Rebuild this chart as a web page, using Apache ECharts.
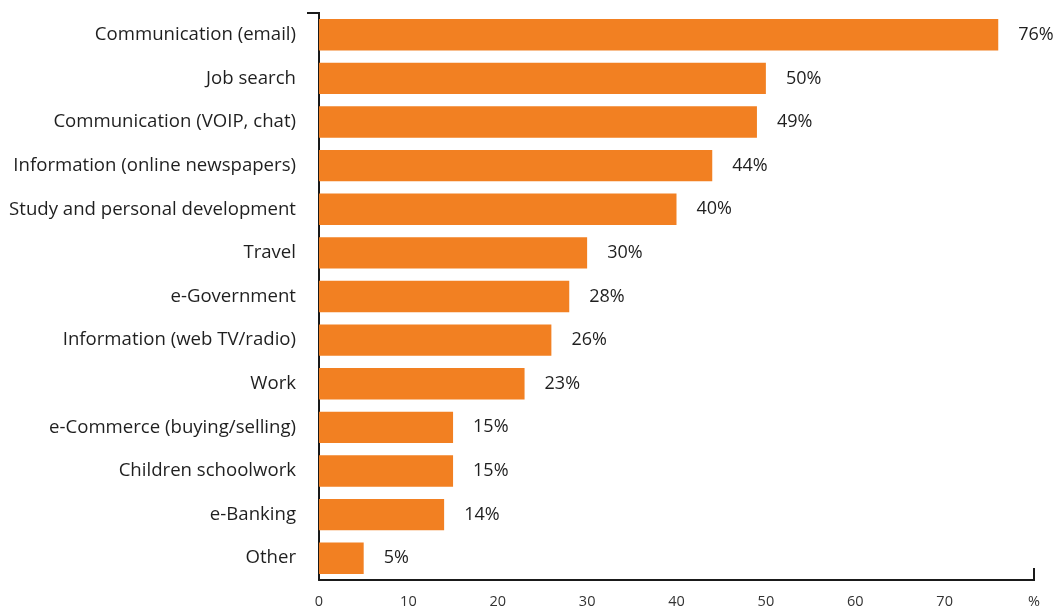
<!DOCTYPE html>
<html>
<head>
<meta charset="utf-8">
<script src="https://cdn.jsdelivr.net/npm/echarts@6/dist/echarts.min.js"></script>
<style>
  html, body { margin: 0; padding: 0; background: #fff; }
  #chart { width: 1059px; height: 612px; }
</style>
</head>
<body>
<div id="chart"></div>
<script>
// Internet uses, share of users (%)
const categories = [
  'Communication (email)',
  'Job search',
  'Communication (VOIP, chat)',
  'Information (online newspapers)',
  'Study and personal development',
  'Travel',
  'e-Government',
  'Information (web TV/radio)',
  'Work',
  'e-Commerce (buying/selling)',
  'Children schoolwork',
  'e-Banking',
  'Other'
];
const values = [76, 50, 49, 44, 40, 30, 28, 26, 23, 15, 15, 14, 5];
const xTicks = [0, 10, 20, 30, 40, 50, 60, 70, 80];
const unitLabel = '%';

const FONT = '"Open Sans", Lato, sans-serif';
const chart = echarts.init(document.getElementById('chart'), null, { renderer: 'canvas' });

const option = {
  animation: false,
  backgroundColor: '#ffffff',
  grid: { left: 319, right: 25, top: 13, bottom: 32, containLabel: false },
  xAxis: {
    type: 'value',
    min: xTicks[0],
    max: xTicks[xTicks.length - 1],
    interval: 10,
    axisLine: { show: true, lineStyle: { color: '#1a1a1a', width: 2 } },
    axisTick: { show: false },
    splitLine: { show: false },
    axisLabel: {
      color: '#333',
      fontFamily: FONT,
      fontSize: 14.5,
      margin: 14,
      formatter: v => (v === xTicks[xTicks.length - 1] ? unitLabel : String(v))
    }
  },
  yAxis: {
    type: 'category',
    data: categories,
    inverse: true,
    axisLine: { show: true, lineStyle: { color: '#1a1a1a', width: 2 } },
    axisTick: { show: false },
    axisLabel: {
      color: '#1f1f1f',
      fontFamily: FONT,
      fontSize: 18.6,
      margin: 23
    }
  },
  series: [{
    type: 'bar',
    data: values,
    barCategoryGap: '28%',
    itemStyle: { color: '#F28022' },
    label: {
      show: true,
      position: 'right',
      distance: 20,
      formatter: p => p.value + '%',
      color: '#1f1f1f',
      fontFamily: FONT,
      fontSize: 18
    }
  }]
};
chart.setOption(option);

// End caps of the axis frame: a short tick left at the top of the y axis,
// and a short tick up at the right end of the x axis.
const gridRect = chart.getModel().getComponent('grid', 0).coordinateSystem.getRect();
const x0 = gridRect.x, yTop = gridRect.y;
const x1 = gridRect.x + gridRect.width, yBot = gridRect.y + gridRect.height;
chart.setOption({
  graphic: [
    { type: 'line', shape: { x1: x0 - 12, y1: yTop, x2: x0 + 1, y2: yTop },
      style: { stroke: '#1a1a1a', lineWidth: 2 } },
    { type: 'line', shape: { x1: x1, y1: yBot + 1, x2: x1, y2: yBot - 12 },
      style: { stroke: '#1a1a1a', lineWidth: 2 } }
  ]
});
</script>
</body>
</html>
